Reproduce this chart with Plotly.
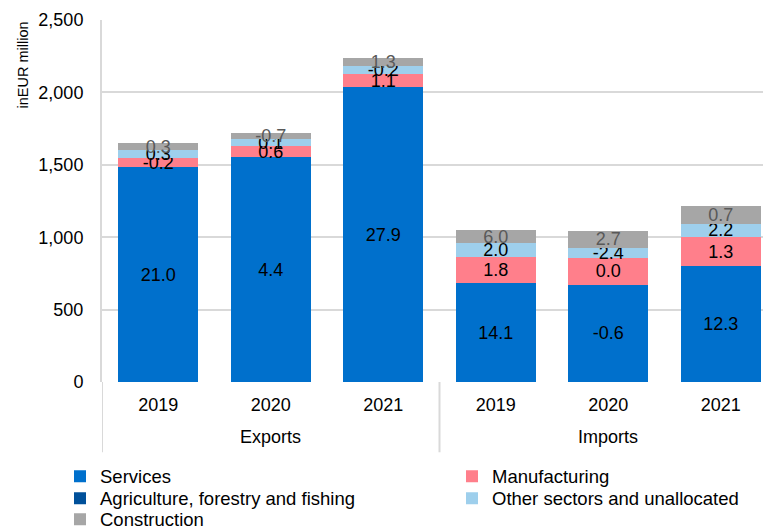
import plotly.graph_objects as go

groups = ["Exports", "Imports"]
group_pos = [1, 4]
years = ["2019", "2020", "2021", "2019", "2020", "2021"]
xpos = [0, 1, 2, 3, 4, 5]

services = [1482, 1553, 2036, 681, 672, 799]
manufacturing = [62, 74, 88, 182, 187, 202]
agriculture = [0, 0, 0, 0, 0, 0]
other = [56, 53, 57, 94, 69, 92]
construction = [48, 41, 55, 90, 114, 120]

services_lbl = ["21.0", "4.4", "27.9", "14.1", "-0.6", "12.3"]
manufacturing_lbl = ["-0.2", "0.6", "1.1", "1.8", "0.0", "1.3"]
other_lbl = ["0.3", "0.1", "-0.2", "2.0", "-2.4", "2.2"]
construction_lbl = ["0.3", "-0.7", "1.3", "6.0", "2.7", "0.7"]

FONT = "Liberation Sans, Arial, sans-serif"
TXT = "#000000"

# plot area in pixels
L, R, T, B = 102, 0, 19.5, 147.3
W, H = 763, 529
PW, PH = W - L - R, H - T - B

def px_x(px):
    return (px - L) / PW

def px_y(py):
    return (H - B - py) / PH

def bar(name, vals, color, legend, labels=None, tcolor=TXT):
    return go.Bar(
        name=name, x=xpos, y=vals, legend=legend,
        marker=dict(color=color, line=dict(width=0)),
        text=labels, texttemplate="%{text}" if labels else None,
        textposition="inside" if labels else "none",
        insidetextanchor="middle", constraintext="none", textangle=0,
        textfont=dict(family=FONT, size=18, color=tcolor),
        hoverinfo="skip",
    )

fig = go.Figure([
    bar("Services", services, "#0070CC", "legend", services_lbl),
    bar("Manufacturing", manufacturing, "#FF7F8B", "legend2", manufacturing_lbl),
    bar("Agriculture, forestry and fishing", agriculture, "#00509A", "legend3"),
    bar("Other sectors and unallocated", other, "#9ECFEC", "legend4", other_lbl),
    bar("Construction", construction, "#A6A6A6", "legend5", construction_lbl, "#595959"),
])

legfont = dict(family=FONT, size=18.5, color=TXT)
col_x = [px_x(60), px_x(452)]
row_y = [px_y(476.5), px_y(498.5), px_y(519.5)]
leg_pos = {
    "legend": (col_x[0], row_y[0]),
    "legend2": (col_x[1], row_y[0]),
    "legend3": (col_x[0], row_y[1]),
    "legend4": (col_x[1], row_y[1]),
    "legend5": (col_x[0], row_y[2]),
}
leg_layout = {}
for k, (lx, ly) in leg_pos.items():
    leg_layout[k] = dict(x=lx, xanchor="left", y=ly, yanchor="middle",
                         orientation="v", font=legfont, itemwidth=30,
                         bgcolor="rgba(0,0,0,0)", borderwidth=0)

annotations = [
    dict(text=g, x=gx, xref="x", y=px_y(437), yref="paper", showarrow=False,
         font=dict(family=FONT, size=18, color=TXT), xanchor="center", yanchor="middle")
    for g, gx in zip(groups, group_pos)
]
annotations.append(dict(
    text="inEUR million", textangle=-90, x=px_x(22), xref="paper", y=1.0, yref="paper",
    xanchor="center", yanchor="top", showarrow=False,
    font=dict(family=FONT, size=14.5, color=TXT)))

shapes = [
    dict(type="line", xref="x", yref="paper", x0=d, x1=d, y0=0, y1=px_y(452),
         line=dict(color="#d9d9d9", width=2))
    for d in [-0.5, 2.5]
]

fig.update_layout(
    width=W, height=H,
    margin=dict(l=L, r=R, t=T, b=B, autoexpand=False),
    barmode="stack", bargap=0.29,
    plot_bgcolor="white", paper_bgcolor="white",
    font=dict(family=FONT, size=18, color=TXT),
    showlegend=True,
    annotations=annotations, shapes=shapes,
    **leg_layout,
)
fig.update_xaxes(
    range=[-0.5, -0.5 + PW / 112.5],
    tickmode="array", tickvals=xpos, ticktext=years,
    showline=False, showgrid=False, zeroline=False,
    ticks="outside", ticklen=6, tickcolor="rgba(0,0,0,0)",
    tickfont=dict(family=FONT, size=18, color=TXT),
)
fig.update_yaxes(
    range=[0, 2500], dtick=500, tickformat=",",
    showgrid=True, gridcolor="#d9d9d9", gridwidth=2,
    showline=True, linecolor="#d9d9d9", linewidth=2,
    zeroline=False, ticks="outside", ticklen=13, tickcolor="rgba(0,0,0,0)",
    tickfont=dict(family=FONT, size=18, color=TXT),
)

fig.write_html("out.html")
